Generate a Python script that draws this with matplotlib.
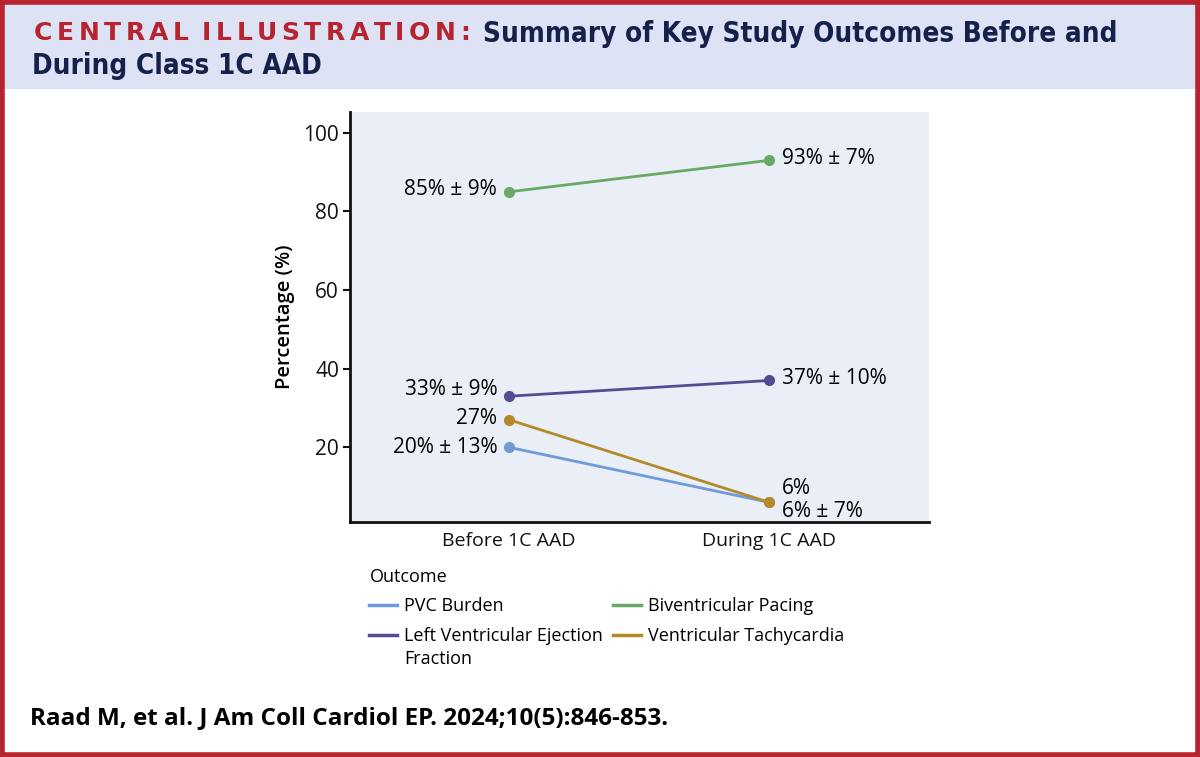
import matplotlib
matplotlib.use("Agg")
import matplotlib.pyplot as plt
from matplotlib.patches import Rectangle
from matplotlib.lines import Line2D

plt.rcParams['font.family'] = ['Open Sans', 'DejaVu Sans']

# data
phases = ['Before 1C AAD', 'During 1C AAD']
outcomes = ['PVC Burden', 'Biventricular Pacing',
            'Left Ventricular Ejection\nFraction', 'Ventricular Tachycardia']
pvc = [20, 6]
biv = [85, 93]
lvef = [33, 37]
vt = [27, 6]
pvc_lab = ['20% ± 13%', '6% ± 7%']
biv_lab = ['85% ± 9%', '93% ± 7%']
lvef_lab = ['33% ± 9%', '37% ± 10%']
vt_lab = ['27%', '6%']
yticks = [20, 40, 60, 80, 100]

colors = {'pvc': '#6f9bd8', 'biv': '#68a964', 'lvef': '#554b92', 'vt': '#b3892a'}
red = '#b7232f'
navy = '#15214a'

W, H = 1200, 757
fig = plt.figure(figsize=(12, 7.57), dpi=100)
renderer = fig.canvas.get_renderer()

# header band and border
fig.patches.append(Rectangle((0, 1 - 89 / H), 1, 89 / H, transform=fig.transFigure,
                             facecolor='#dde3f4', edgecolor='none', zorder=0))
fig.patches.append(Rectangle((0.0015, 0.002), 0.997, 0.995, transform=fig.transFigure,
                             facecolor='none', edgecolor=red, linewidth=4, zorder=5))

# title: red part is letter-spaced, so set it one glyph at a time
red_title = 'CENTRAL ILLUSTRATION:'
rkw = dict(color=red, fontsize=18, fontweight='bold', family='DejaVu Sans', va='baseline')
glyphs = [fig.text(0, 1 - 40 / H, ch, **rkw) for ch in red_title]
widths = [g.get_window_extent(renderer).width if ch != ' ' else 4
          for g, ch in zip(glyphs, red_title)]
gap = (470 - 34 - sum(widths)) / (len(red_title) - 1)
xpos = 34
for g, w in zip(glyphs, widths):
    g.set_x(xpos / W)
    xpos += w + gap
nkw = dict(fontsize=20, fontweight='bold', family='DejaVu Sans', fontstretch='condensed',
           color=navy, va='baseline')
fig.text(483 / W, 1 - 42 / H, 'Summary of Key Study Outcomes Before and', **nkw)
fig.text(32 / W, 1 - 74 / H, 'During Class 1C AAD', **nkw)

# axes
ax = fig.add_axes([350 / W, 1 - 522 / H, 579 / W, 410 / H])
ax.set_facecolor('#e9eef7')
x = [1, 2]
for vals, c in [(pvc, colors['pvc']), (vt, colors['vt']),
                (lvef, colors['lvef']), (biv, colors['biv'])]:
    ax.plot(x, vals, color=c, lw=2, marker='o', ms=7, solid_capstyle='round')

ax.set_xlim(0.388, 2.615)
ax.set_ylim(1, 105.3)
ax.set_yticks(yticks)
ax.set_xticks(x)
ax.set_xticklabels(phases)
for s in ['top', 'right']:
    ax.spines[s].set_visible(False)
for s in ['left', 'bottom']:
    ax.spines[s].set_linewidth(2)
    ax.spines[s].set_color('#111111')
ax.tick_params(axis='y', labelsize=15, length=5, width=1.5, color='#111111', pad=3,
               labelcolor='#111111')
ax.tick_params(axis='x', labelsize=14, length=0, pad=7, labelcolor='#111111')
ax.set_ylabel('Percentage (%)', fontsize=14.5, fontweight='semibold', labelpad=6)

fs = 15
ax.text(0.954, biv[0] + 0.5, biv_lab[0], ha='right', va='center', fontsize=fs)
ax.text(0.954, lvef[0] + 1.6, lvef_lab[0], ha='right', va='center', fontsize=fs)
ax.text(0.954, vt[0] + 0.4, vt_lab[0], ha='right', va='center', fontsize=fs)
ax.text(0.954, pvc[0], pvc_lab[0], ha='right', va='center', fontsize=fs)
ax.text(2.05, biv[1] + 0.4, biv_lab[1], ha='left', va='center', fontsize=fs)
ax.text(2.05, lvef[1] + 0.6, lvef_lab[1], ha='left', va='center', fontsize=fs)
ax.text(2.05, vt[1] + 3.6, vt_lab[1], ha='left', va='center', fontsize=fs)
ax.text(2.05, pvc[1] - 2.3, pvc_lab[1], ha='left', va='center', fontsize=fs)

# legend, laid out by hand so the handle sits on the first text line
leg_items = [(outcomes[0], colors['pvc']), (outcomes[1], colors['biv']),
             (outcomes[2], colors['lvef']), (outcomes[3], colors['vt'])]
fig.text(370 / W, 1 - 577 / H, 'Outcome', fontsize=13, va='center')
col_x = [369, 613]
row_y = [605, 635]
for i, (lab, c) in enumerate(leg_items):
    cx, ry = col_x[i % 2], row_y[i // 2]
    fig.add_artist(Line2D([cx / W, (cx + 28) / W], [1 - ry / H, 1 - ry / H],
                          color=c, lw=2.5, transform=fig.transFigure))
    fig.text((cx + 35) / W, 1 - (ry - 8) / H, lab, fontsize=13, va='top',
             linespacing=1.35)

fig.text(30 / W, 1 - 718 / H, 'Raad M, et al. J Am Coll Cardiol EP. 2024;10(5):846-853.',
         fontsize=17.5, fontweight='bold', va='center')

fig.savefig('out.png', dpi=100)
